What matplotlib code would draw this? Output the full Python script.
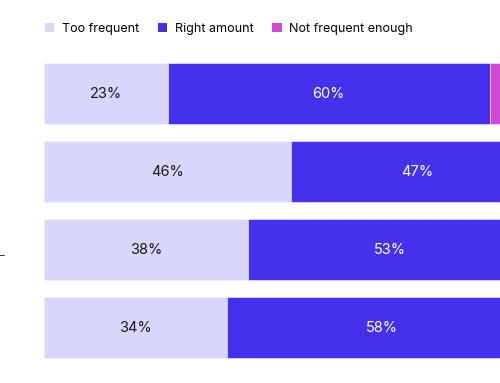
import numpy as np
import matplotlib.pyplot as plt
from matplotlib.patches import Patch

# survey answers, one row per bar (top to bottom)
too_frequent = [23, 46, 38, 34]
right_amount = [60, 47, 53, 58]
not_enough = [17, 7, 9, 8]
series_names = ['Too frequent', 'Right amount', 'Not frequent enough']
colors = ['#d9d6fc', '#4431ec', '#d04ad8']
text_colors = ['#1a1a1a', 'white', 'white']

plt.rcParams['font.family'] = ['Inter', 'DejaVu Sans']

fig = plt.figure(figsize=(5, 3.83), dpi=100)
# the chart is cropped on the right, so the axes run past the figure edge
ax = fig.add_axes([44 / 500, 1 - 366.5 / 383, 537 / 500, 312 / 383])

y = np.arange(len(too_frequent))
left = np.zeros(len(too_frequent))
for vals, col, tcol in zip([too_frequent, right_amount, not_enough], colors, text_colors):
    vals = np.array(vals, dtype=float)
    ax.barh(y, vals, left=left, height=0.785, color=col, edgecolor='#f4f3ff', linewidth=0.4)
    for yi, l, v in zip(y, left, vals):
        cx = l + v / 2
        if cx < 84:
            ax.text(cx, yi, f'{int(v)}%', ha='center', va='center', fontsize=10.5, color=tcol)
    left += vals

ax.set_xlim(0, 100)
ax.set_ylim(len(y) - 0.5, -0.5)
ax.axis('off')

handles = [Patch(facecolor=c, edgecolor='none') for c in colors]
fig.legend(handles, series_names, loc='upper left', bbox_to_anchor=(40 / 500, 1 - 18 / 383),
           ncol=3, frameon=False, fontsize=9, handlelength=0.75, handleheight=0.75,
           handletextpad=0.6, columnspacing=1.5, borderaxespad=0)

# small cropped mark at the left edge
fig.text(0, 1 - 256 / 383, '–', fontsize=7, color='#222222', ha='left', va='center')

fig.savefig('out.png', dpi=100)
